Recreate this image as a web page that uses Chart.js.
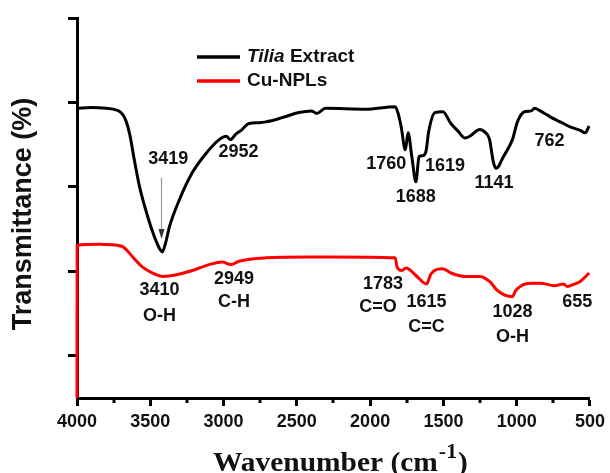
<!DOCTYPE html>
<html>
<head>
<meta charset="utf-8">
<script src="https://cdn.jsdelivr.net/npm/chart.js@4.4.0/dist/chart.umd.min.js"></script>
<style>
  html, body { margin: 0; padding: 0; background: #fff; }
  canvas { display: block; }
</style>
</head>
<body>
<canvas id="ftir" width="610" height="473"></canvas>
<script>
// FTIR spectra: wavenumber (cm-1) and transmittance (offset, arbitrary units)
const extractWavenumber = [4000, 3900, 3800, 3730, 3700, 3670, 3640, 3610, 3573, 3518, 3470, 3440, 3419, 3395, 3369, 3301, 3213, 3118, 3030, 2982, 2952, 2920, 2880, 2826, 2760, 2711, 2600, 2487, 2399, 2365, 2304, 2033, 1829, 1809, 1788, 1760, 1741, 1715, 1688, 1666, 1640, 1619, 1600, 1558, 1504, 1449, 1400, 1354, 1320, 1252, 1212, 1185, 1160, 1141, 1125, 1096, 1063, 1029, 995, 947, 900, 879, 840, 800, 762, 703, 635, 567, 533, 506];
const extractT = [2.93, 2.94, 2.93, 2.91, 2.88, 2.80, 2.62, 2.33, 2.00, 1.65, 1.40, 1.28, 1.23, 1.34, 1.53, 1.85, 2.17, 2.40, 2.56, 2.60, 2.56, 2.62, 2.67, 2.75, 2.76, 2.77, 2.82, 2.88, 2.90, 2.87, 2.93, 2.92, 2.95, 2.87, 2.71, 2.44, 2.64, 2.35, 2.06, 2.36, 2.37, 2.42, 2.66, 2.88, 2.89, 2.75, 2.66, 2.58, 2.60, 2.68, 2.64, 2.56, 2.30, 2.22, 2.24, 2.34, 2.44, 2.56, 2.77, 2.89, 2.90, 2.93, 2.90, 2.86, 2.82, 2.77, 2.71, 2.67, 2.64, 2.72];

const cuWavenumber = [4000, 3999, 3844, 3700, 3660, 3620, 3552, 3484, 3410, 3322, 3213, 3098, 3010, 2949, 2894, 2711, 2419, 2263, 1829, 1816, 1783, 1754, 1693, 1615, 1585, 1504, 1449, 1354, 1252, 1185, 1130, 1028, 1008, 906, 838, 744, 680, 655, 620, 567, 506];
const cuT = [-0.5, 1.31, 1.32, 1.30, 1.25, 1.17, 1.05, 0.98, 0.94, 0.96, 1.01, 1.08, 1.11, 1.08, 1.12, 1.16, 1.17, 1.17, 1.16, 1.05, 1.01, 1.04, 0.96, 0.85, 0.97, 1.03, 0.98, 0.94, 0.94, 0.88, 0.77, 0.70, 0.77, 0.86, 0.86, 0.83, 0.85, 0.82, 0.84, 0.88, 0.98];

const xTickValues = [4000, 3500, 3000, 2500, 2000, 1500, 1000, 500];
const xMinorTickValues = [3750, 3250, 2750, 2250, 1750, 1250, 750];
const yTickValues = [0, 1, 2, 3, 4];

const seriesNames = ['Extract', 'Cu-NPLs'];
const extractPeaks = [3419, 2952, 1760, 1688, 1619, 1141, 762];
const cuPeaks = [3410, 2949, 1783, 1615, 1028, 655];
const cuBands = ['O-H', 'C-H', 'C=O', 'C=C', 'O-H', ''];

// Label placement (pixel offsets / rows), kept apart from the values
const extractLabelLayout = [
  { dx: 6, y: 159 }, { dx: 8, y: 152 }, { dx: -19, y: 164 }, { dx: 0, y: 197 },
  { dx: 19, y: 166 }, { dx: -2, y: 183 }, { dx: -2, y: 141 }
];
const cuLabelLayout = [
  { dx: -4, y: 290, bdx: -4, by: 316 }, { dx: 3, y: 279, bdx: 3, by: 302 },
  { dx: -19, y: 284, bdx: -24, by: 307 }, { dx: 0, y: 302, bdx: 0, by: 327 },
  { dx: 0, y: 312, bdx: 0, by: 337 }, { dx: 10, y: 302, bdx: 0, by: 0 }
];

const toPoints = (xs, ys) => xs.map((x, i) => ({ x: x, y: ys[i] }));

const SANS = '"Liberation Sans", Arial, sans-serif';
const SERIF = '"Liberation Serif", "Times New Roman", serif';

const decorations = {
  id: 'decorations',
  afterDraw(chart) {
    const ctx = chart.ctx;
    const xs = chart.scales.x;
    const area = chart.chartArea;

    // minor ticks on the wavenumber axis
    ctx.save();
    ctx.strokeStyle = '#000';
    ctx.lineWidth = 3;
    xMinorTickValues.forEach(v => {
      const px = Math.round(xs.getPixelForValue(v));
      ctx.beginPath();
      ctx.moveTo(px, area.bottom);
      ctx.lineTo(px, area.bottom + 5);
      ctx.stroke();
    });
    ctx.restore();

    // peak labels
    ctx.save();
    ctx.fillStyle = '#111';
    ctx.textAlign = 'center';
    ctx.textBaseline = 'middle';
    ctx.font = 'bold 18px ' + SANS;
    extractPeaks.forEach((wn, i) => {
      const px = xs.getPixelForValue(wn);
      const l = extractLabelLayout[i];
      ctx.fillText(String(wn), px + l.dx, l.y);
    });
    cuPeaks.forEach((wn, i) => {
      const px = xs.getPixelForValue(wn);
      const l = cuLabelLayout[i];
      ctx.fillText(String(wn), px + l.dx, l.y);
      if (cuBands[i]) ctx.fillText(cuBands[i], px + l.bdx, l.by);
    });

    // arrow pointing at the main O-H band of the extract
    const ax = Math.round(xs.getPixelForValue(extractPeaks[0])) - 0.5;
    ctx.strokeStyle = '#999';
    ctx.lineWidth = 1.2;
    ctx.beginPath();
    ctx.moveTo(ax, 178);
    ctx.lineTo(ax, 231);
    ctx.stroke();
    ctx.fillStyle = '#333';
    ctx.beginPath();
    ctx.moveTo(ax - 3, 229);
    ctx.lineTo(ax + 3, 229);
    ctx.lineTo(ax, 239);
    ctx.closePath();
    ctx.fill();
    ctx.restore();

    // legend
    ctx.save();
    ctx.lineWidth = 3.5;
    ctx.strokeStyle = '#000';
    ctx.beginPath(); ctx.moveTo(197, 57); ctx.lineTo(240, 57); ctx.stroke();
    ctx.strokeStyle = '#ff0000';
    ctx.beginPath(); ctx.moveTo(197, 81); ctx.lineTo(240, 81); ctx.stroke();
    ctx.fillStyle = '#111';
    ctx.textBaseline = 'middle';
    ctx.textAlign = 'left';
    ctx.font = 'italic bold 19px ' + SANS;
    ctx.fillText('Tilia', 247, 57);
    const w = ctx.measureText('Tilia ').width;
    ctx.font = 'bold 19px ' + SANS;
    ctx.fillText(seriesNames[0], 247 + w, 57);
    ctx.fillText(seriesNames[1], 247, 81);
    ctx.restore();

    // y axis title
    ctx.save();
    ctx.translate(24, 214);
    ctx.rotate(-Math.PI / 2);
    ctx.fillStyle = '#111';
    ctx.textAlign = 'center';
    ctx.textBaseline = 'middle';
    ctx.font = 'bold 27px ' + SANS;
    ctx.fillText('Transmittance (%)', 0, 0);
    ctx.restore();

    // x axis title with superscript
    ctx.save();
    ctx.translate(213, 471);
    ctx.scale(1.09, 1);
    ctx.fillStyle = '#111';
    ctx.textBaseline = 'alphabetic';
    ctx.textAlign = 'left';
    ctx.font = 'bold 27px ' + SERIF;
    const main = 'Wavenumber (cm';
    ctx.fillText(main, 0, 0);
    let off = ctx.measureText(main).width;
    ctx.font = 'bold 20px ' + SERIF;
    ctx.fillText('-1', off + 1, -13);
    off += ctx.measureText('-1').width + 2;
    ctx.font = 'bold 27px ' + SERIF;
    ctx.fillText(')', off, 0);
    ctx.restore();
  }
};

new Chart(document.getElementById('ftir'), {
  type: 'line',
  data: {
    datasets: [
      {
        label: seriesNames[0],
        data: toPoints(extractWavenumber, extractT),
        borderColor: '#000',
        borderWidth: 3,
        pointRadius: 0,
        cubicInterpolationMode: 'monotone',
        borderJoinStyle: 'round',
        clip: false
      },
      {
        label: seriesNames[1],
        data: toPoints(cuWavenumber, cuT),
        borderColor: '#ff0000',
        borderWidth: 3,
        pointRadius: 0,
        cubicInterpolationMode: 'monotone',
        borderJoinStyle: 'round',
        clip: false
      }
    ]
  },
  options: {
    responsive: false,
    animation: false,
    devicePixelRatio: 1,
    layout: { padding: { top: 18, right: 17, left: 0, bottom: 0 } },
    plugins: { legend: { display: false }, tooltip: { enabled: false } },
    scales: {
      x: {
        type: 'linear',
        reverse: true,
        min: 500,
        max: 4000,
        afterBuildTicks: s => { s.ticks = xTickValues.map(v => ({ value: v })); },
        afterFit: s => { s.height = 75; },
        border: { display: true, color: '#000', width: 3 },
        grid: { display: true, drawOnChartArea: false, drawTicks: true, tickLength: 8, tickWidth: 3, tickColor: '#000' },
        ticks: {
          maxRotation: 0,
          padding: 5,
          color: '#111',
          font: { family: SANS, size: 18, weight: 'bold' },
          callback: v => String(v)
        }
      },
      y: {
        type: 'linear',
        min: -0.5,
        max: 4,
        afterBuildTicks: s => { s.ticks = yTickValues.map(v => ({ value: v })); },
        afterFit: s => { s.width = 77; },
        border: { display: true, color: '#000', width: 3 },
        grid: { display: true, drawOnChartArea: false, drawTicks: true, tickLength: 9, tickWidth: 3, tickColor: '#000' },
        ticks: { display: false }
      }
    }
  },
  plugins: [decorations]
});
</script>
</body>
</html>
